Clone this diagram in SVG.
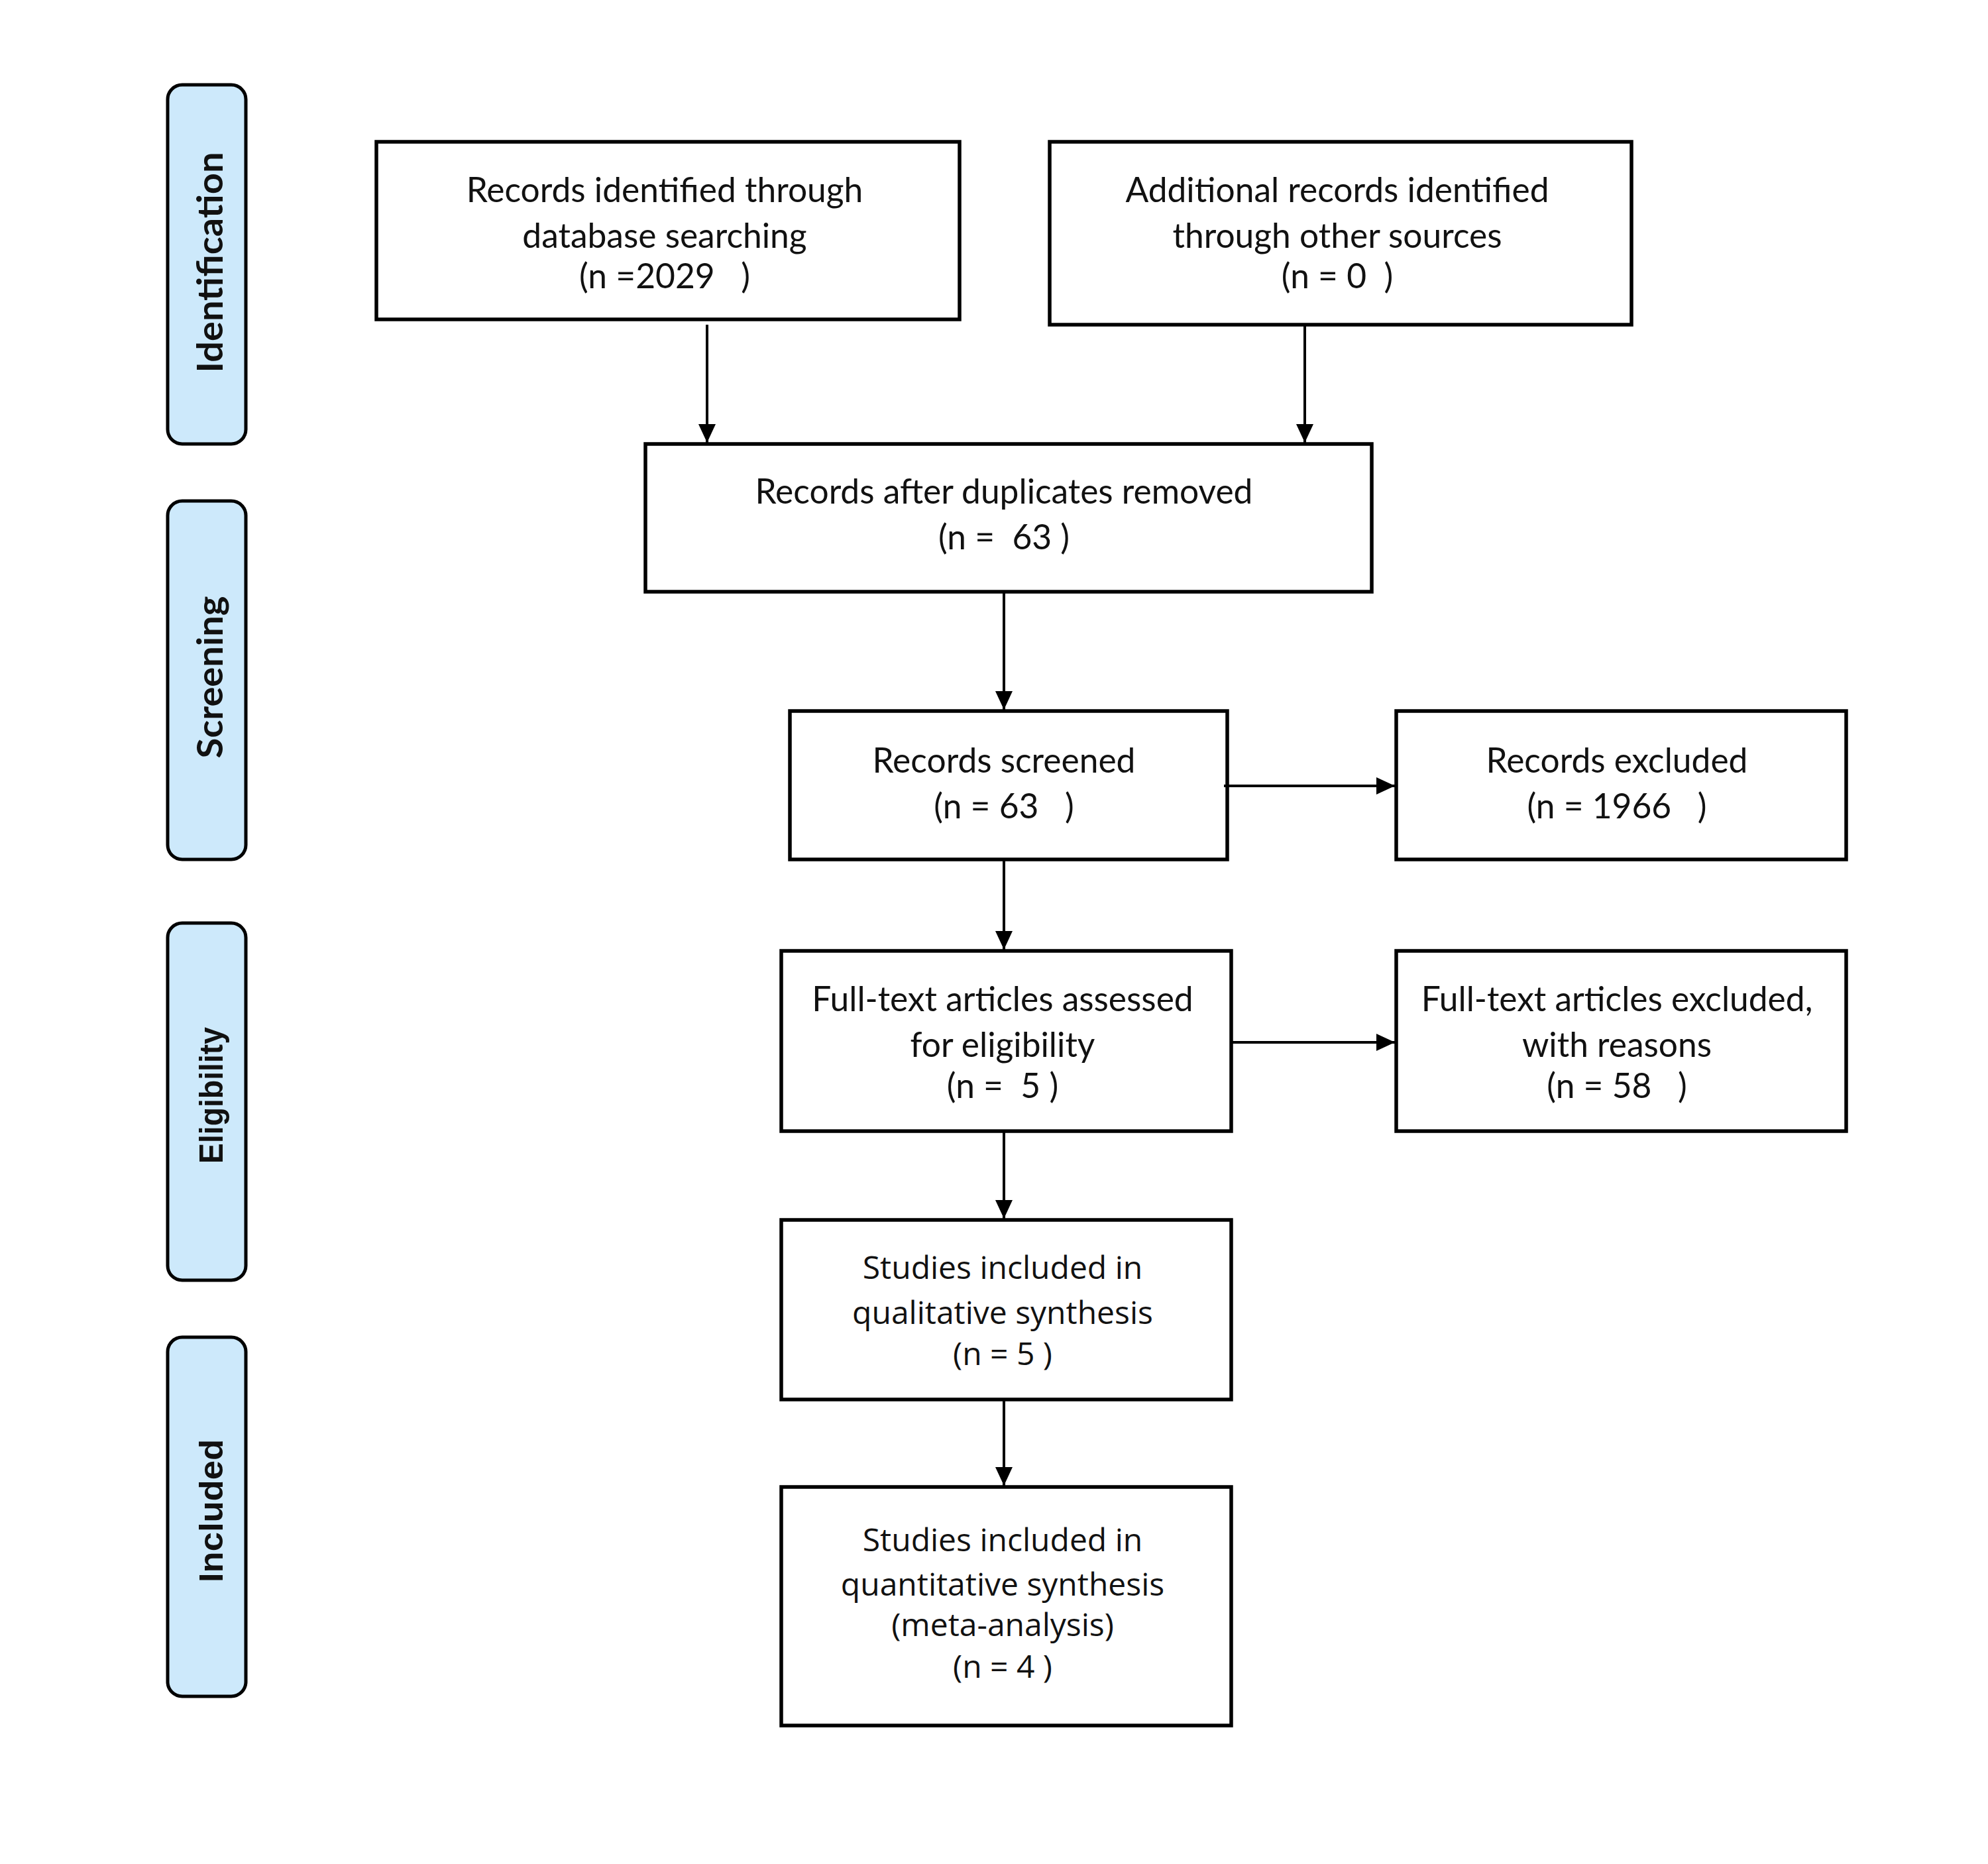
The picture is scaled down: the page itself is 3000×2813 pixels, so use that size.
<svg xmlns="http://www.w3.org/2000/svg" width="3000" height="2813" viewBox="0 0 3000 2813">
<defs>
<style>
.box{fill:#fff;stroke:#000;stroke-width:5.5}
.phase{fill:#cde9fb;stroke:#000;stroke-width:5}
.t{font-family:Lato,"Open Sans","Liberation Sans",sans-serif;font-size:51.5px;fill:#111;text-anchor:middle;white-space:pre}
.t2{font-family:"Open Sans","DejaVu Sans",sans-serif;font-size:48px;fill:#111;text-anchor:middle;white-space:pre}
.p{font-family:Lato,"Liberation Sans",sans-serif;font-weight:bold;font-size:54px;fill:#111;text-anchor:middle}
.pn{font-family:"Liberation Sans",sans-serif;font-weight:bold;font-size:50px;fill:#111;text-anchor:middle}
.c{stroke:#000;stroke-width:4;fill:none;marker-end:url(#ah)}
</style>
<marker id="ah" markerWidth="28" markerHeight="26" refX="28" refY="13" orient="auto" markerUnits="userSpaceOnUse">
<path d="M0,0 L28,13 L0,26 z" fill="#000"/>
</marker>
</defs>
<rect width="3000" height="2813" fill="#fff"/>

<g id="phase-identification">
<rect class="phase" x="253" y="128" width="118" height="542" rx="22"/>
<text class="p" transform="translate(336,396) rotate(-90)" textLength="333" lengthAdjust="spacingAndGlyphs">Identification</text>
</g>
<g id="phase-screening">
<rect class="phase" x="253" y="756" width="118" height="541" rx="22"/>
<text class="p" transform="translate(336,1022) rotate(-90)" textLength="245" lengthAdjust="spacingAndGlyphs">Screening</text>
</g>
<g id="phase-eligibility">
<rect class="phase" x="253" y="1393" width="118" height="539" rx="22"/>
<text class="pn" transform="translate(336,1653) rotate(-90)" textLength="206" lengthAdjust="spacingAndGlyphs">Eligibility</text>
</g>
<g id="phase-included">
<rect class="phase" x="253" y="2018" width="118" height="542" rx="22"/>
<text class="pn" transform="translate(336,2280) rotate(-90)" textLength="216" lengthAdjust="spacingAndGlyphs">Included</text>
</g>

<g id="node-database">
<rect class="box" x="568" y="214" width="880" height="268"/>
<text class="t" x="1003" y="305">Records identified through</text>
<text class="t" x="1003" y="374">database searching</text>
<text class="t" x="1003" y="435">(n =2029   )</text>
</g>
<g id="node-other">
<rect class="box" x="1584" y="214" width="878" height="276"/>
<text class="t" x="2018" y="305">Additional records identified</text>
<text class="t" x="2018" y="374">through other sources</text>
<text class="t" x="2018" y="435">(n = 0  )</text>
</g>
<g id="node-duplicates">
<rect class="box" x="974" y="670" width="1096" height="223"/>
<text class="t" x="1515" y="760">Records after duplicates removed</text>
<text class="t" x="1515" y="829">(n =  63 )</text>
</g>
<g id="node-screened">
<rect class="box" x="1192" y="1073" width="660" height="224"/>
<text class="t" x="1515" y="1166">Records screened</text>
<text class="t" x="1515" y="1235">(n = 63   )</text>
</g>
<g id="node-excluded">
<rect class="box" x="2107" y="1073" width="679" height="224"/>
<text class="t" x="2440" y="1166">Records excluded</text>
<text class="t" x="2440" y="1235">(n = 1966   )</text>
</g>
<g id="node-fulltext">
<rect class="box" x="1179" y="1435" width="679" height="272"/>
<text class="t" x="1513" y="1526">Full-text articles assessed</text>
<text class="t" x="1513" y="1595">for eligibility</text>
<text class="t" x="1513" y="1657">(n =  5 )</text>
</g>
<g id="node-fulltext-excluded">
<rect class="box" x="2107" y="1435" width="679" height="272"/>
<text class="t" x="2440" y="1526">Full-text articles excluded,</text>
<text class="t" x="2440" y="1595">with reasons</text>
<text class="t" x="2440" y="1657">(n = 58   )</text>
</g>
<g id="node-qualitative">
<rect class="box" x="1179" y="1841" width="679" height="271"/>
<text class="t2" x="1513" y="1930">Studies included in</text>
<text class="t2" x="1513" y="1998">qualitative synthesis</text>
<text class="t2" x="1513" y="2060">(n = 5 )</text>
</g>
<g id="node-quantitative">
<rect class="box" x="1179" y="2244" width="679" height="360"/>
<text class="t2" x="1513" y="2341">Studies included in</text>
<text class="t2" x="1513" y="2408">quantitative synthesis</text>
<text class="t2" x="1513" y="2469">(meta-analysis)</text>
<text class="t2" x="1513" y="2532">(n = 4 )</text>
</g>

<g id="connectors">
<line class="c" x1="1067" y1="490" x2="1067" y2="668"/>
<line class="c" x1="1969" y1="492" x2="1969" y2="668"/>
<line class="c" x1="1515" y1="895" x2="1515" y2="1071"/>
<line class="c" x1="1847" y1="1186" x2="2105" y2="1186"/>
<line class="c" x1="1515" y1="1299" x2="1515" y2="1433"/>
<line class="c" x1="1860" y1="1573" x2="2105" y2="1573"/>
<line class="c" x1="1515" y1="1709" x2="1515" y2="1839"/>
<line class="c" x1="1515" y1="2114" x2="1515" y2="2242"/>
</g>
</svg>
